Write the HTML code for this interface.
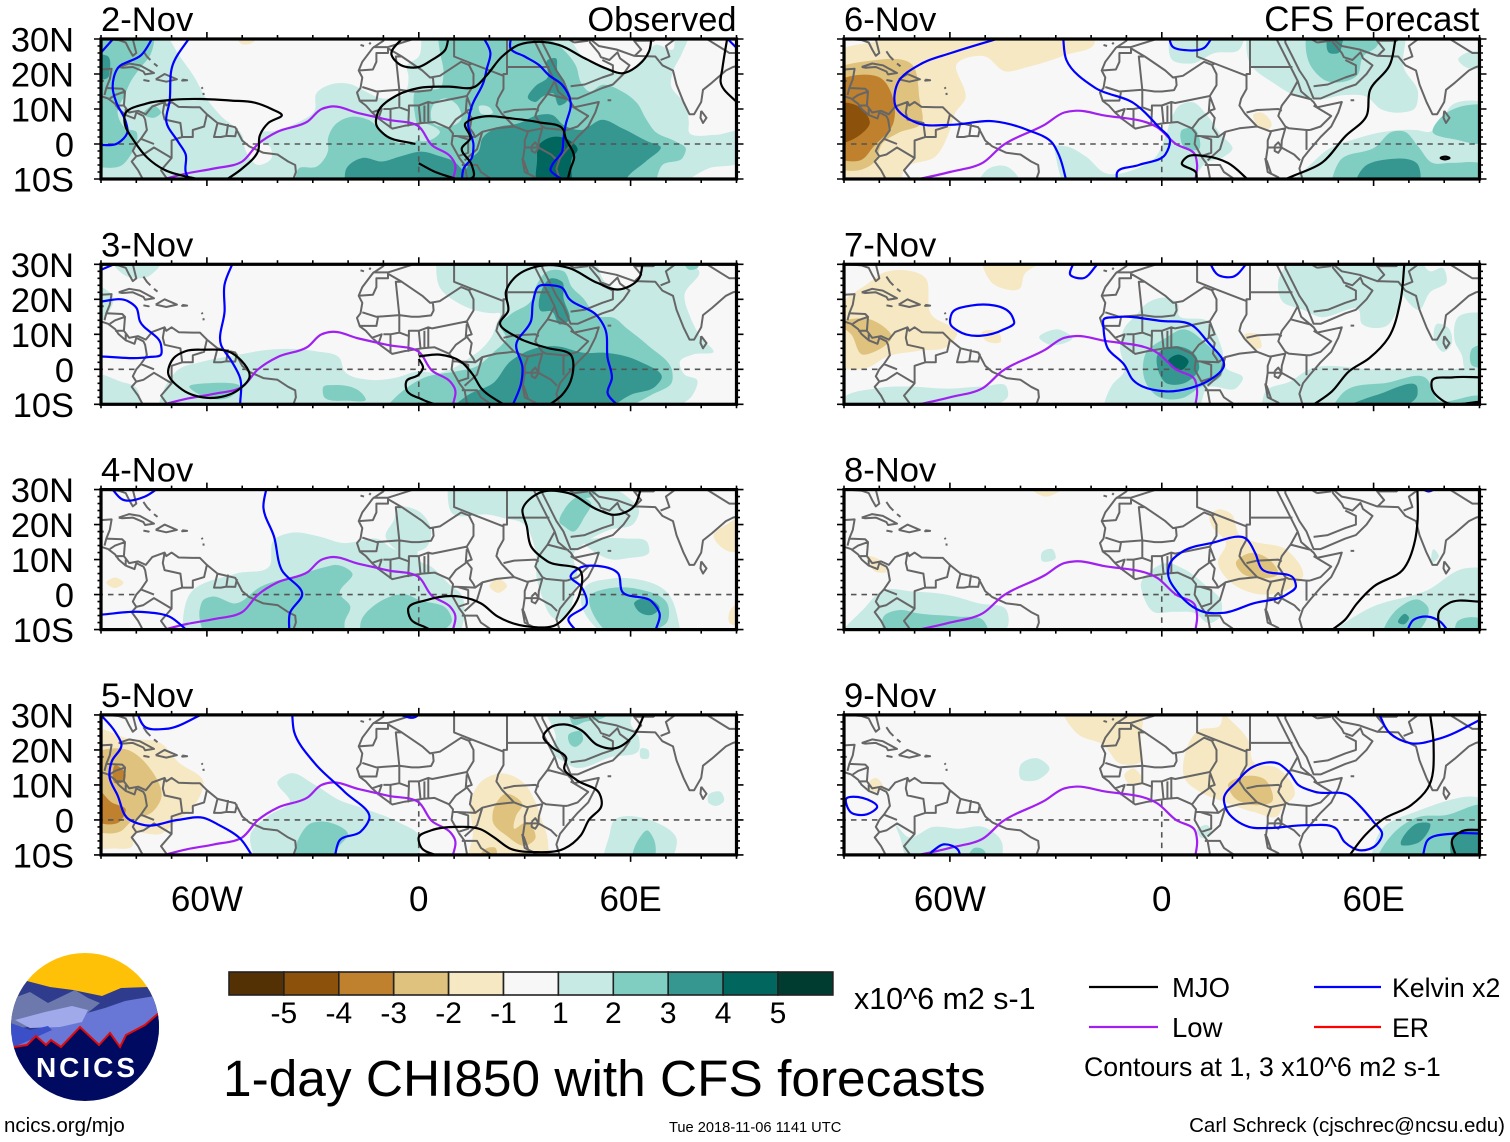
<!DOCTYPE html>
<html lang="en">
<head>
<meta charset="utf-8">
<title>1-day CHI850 with CFS forecasts</title>
<style>
html,body{margin:0;padding:0;background:#fff}
svg{display:block}
text{font-family:"Liberation Sans",sans-serif;fill:#000}
</style>
</head>
<body>
<svg id="chart" xmlns="http://www.w3.org/2000/svg" width="1510" height="1142" viewBox="0 0 1510 1142">
  <rect width="1510" height="1142" fill="#fff"/>
  <g id="panels"></g>
  <g id="colorbar"></g>
  <text x="854" y="1009" font-size="30.4">x10^6 m2 s-1</text>
  <text x="223" y="1096" font-size="51.4">1-day CHI850 with CFS forecasts</text>
  <g>
    <line x1="1089" x2="1158" y1="987" y2="987" stroke="#000" stroke-width="2.2"/>
    <text x="1172" y="997" font-size="27.5">MJO</text>
    <line x1="1089" x2="1158" y1="1027" y2="1027" stroke="#a020f0" stroke-width="2.2"/>
    <text x="1172" y="1037" font-size="27.5">Low</text>
    <line x1="1314" x2="1381" y1="987" y2="987" stroke="#0000ff" stroke-width="2.2"/>
    <text x="1392" y="997" font-size="26.7">Kelvin x2</text>
    <line x1="1314" x2="1381" y1="1027" y2="1027" stroke="#ff0000" stroke-width="2.2"/>
    <text x="1392" y="1037" font-size="26.7">ER</text>
    <text x="1084" y="1076" font-size="26.7">Contours at 1, 3 x10^6 m2 s-1</text>
  </g>
  <text x="4" y="1132" font-size="20.5">ncics.org/mjo</text>
  <text x="669" y="1132" font-size="14.65">Tue 2018-11-06 1141 UTC</text>
  <text x="1505" y="1132" font-size="20.5" text-anchor="end">Carl Schreck (cjschrec@ncsu.edu)</text>
  <g>
    <defs><clipPath id="logoClip"><circle cx="85" cy="1027" r="74"/></clipPath></defs>
    <g clip-path="url(#logoClip)">
      <rect x="10" y="952" width="150" height="60" fill="#ffc107"/>
      <polygon fill="#2f3c8e" points="8,985 27,981 50,987 73,990 102,996 121,988 148,987 162,1000 162,1035 8,1035"/>
      <polygon fill="#6d79ad" points="8,1000 30,992 48,1003 75,990 88,998 100,1003 85,1015 60,1022 8,1030"/>
      <polygon fill="#6877d6" points="80,1015 105,1008 125,1001 155,996 162,1020 162,1060 8,1060 8,1040 50,1025"/>
      <polygon fill="#a0a9ea" points="15,1020 45,1012 72,1006 88,1010 82,1022 60,1027 30,1028"/>
      <polygon fill="#3b4fc8" points="8,1022 30,1030 48,1026 52,1030 30,1040 14,1047 8,1047"/>
      <polygon fill="#000a60" points="14,1047 27,1045 36,1036 46,1045 51,1040 61,1047 80,1027 99,1045 110,1033 120,1047 126,1035 145,1025 160,1012 165,1105 5,1105 5,1047"/>
      <polyline fill="none" stroke="#e00a0a" stroke-width="2" points="14,1047 27,1045 36,1036 46,1045 51,1040 61,1047 80,1027 99,1045 110,1033 120,1047 126,1035 145,1025 160,1012"/>
    </g>
    <text x="87" y="1077" font-size="28" font-weight="bold" text-anchor="middle" letter-spacing="3" style="fill:#fff">NCICS</text>
  </g>
</svg>
<script>
// ---- axes ----
const panelDays = ['2-Nov','3-Nov','4-Nov','5-Nov','6-Nov','7-Nov','8-Nov','9-Nov'];
const lonTickValues = [-60,0,60];
const lonTickLabels = ['60W','0','60E'];
const latTickValues = [30,20,10,0,-10];
const latTickLabels = ['30N','20N','10N','0','10S'];
const colorLevels = [-5,-4,-3,-2,-1,1,2,3,4,5];
const colorBands = ['#543005','#8c510a','#bf812d','#dfc27d','#f6e8c3','#f7f7f7','#c7eae5','#80cdc1','#35978f','#01665e','#003c30'];

// ---- shared geography (lon,lat pairs) ----
const coastLines = [
[-91,29.5,-89,30,-85,29.7,-83,29,-82,27,-81,25.2,-80,26,-81,30,-81,32],
[-91,21,-90,21.3,-87,21.5,-87.5,18.5,-88.5,16,-84,15.8,-83.2,15,-83.5,11,-82,9,-79.5,9.5,-77.3,8.5,-75.5,10.7,-72,12,-71.5,11,-70,12,-68,10.6,-64,10.5,-62,10.5,-60,8.5,-57,6,-52,4.8,-50,1,-48,-0.7,-44,-2.5,-40,-3,-37,-5,-35,-6,-34.8,-8,-35.5,-10,-36.5,-11],
[-91,14,-88,13,-86,11.5,-85,10,-83,8.3,-80.5,7.3,-80,9,-78,8,-77.5,7,-77,4,-78.7,1.5,-80,0,-81,-2,-80,-3.5,-81.3,-5,-79.5,-7.5,-78.2,-10,-77.5,-11],
[-72,12,-72.5,9,-72,7,-67.5,6,-67,2,-70,1,-70,-4,-73,-7.5,-70.5,-11],
[-67,2,-64,2,-64,4,-60.8,5,-60,8.5],
[-57,6,-58,2,-56,2,-54.5,2.3,-54,5.7],[-54.5,2.3,-52,2.2,-51.5,4.5],
[-80,-3.5,-78,-3,-75,-1,-70,-4],[-78.7,1.5,-75,0],
[-87.5,13,-86,14,-83.2,15],[-86,11,-83.7,11],[-83,8.5,-83,10],[-89,14,-88.5,16],[-89.2,18,-91,18],
[-85,22,-82,23,-79,22.5,-75,20.3,-77.5,19.9,-78,20.7,-81,22,-84,21.8,-85,22],
[-74.5,18.5,-72,20,-68.5,18.5,-71.5,17.8,-74.5,18.5],[-78,18.3,-76.5,18,-78,18.3],[-67,18.4,-65.6,18.2,-67,18.1,-67,18.4],
[-78,26.5,-77,25,-76,24],[-75,23,-74,22.2],[-61.5,16.2,-61.2,15.8],[-61,14.6,-60.9,14],
[-9.5,31,-10,29.5,-13,27.5,-16,23.5,-17,21,-16,19,-16.5,16,-17.5,14.7,-16.7,12.3,-15,11,-13.2,9,-11,7,-7.5,4.4,-4,5.2,1,6,4.5,6.3,8.5,4.5,9.7,3,9.3,0,11.5,-4,13,-6,13.7,-10,14,-11],
[32.5,31,32.5,30,34,27,35.5,24,37,21,38.5,18,39.5,15,43,12,44,10.5,51,12,50,9,48,5,45,2,42,-1.5,40,-4,39,-7,40,-10.5,40.5,-11],
[35,31,35,29,37,25,39,21,41,18,43,13,45,13,52,16,55,17,58,20,59.7,22.5,57,24.5,56.3,26.2,54,24,51.6,24.8,51,26,48.5,29,48,31],
[48.5,30,51,28,56,27,61,25.2,67,25,69,22.5,72,21,73,17,75,12,76.7,8.5,78,8.5,80,12,80.5,15.5,83,17.5,87,21,89,22,91,22.5],
[80,9.5,81.5,7.5,80.5,6,79.8,7.5,80,9.5],[53.5,12.5,54.5,12.5],
[32,-0.5,33,0.5,34,-1,33,-2.5,32,-2,32,-0.5],[29.3,-4,30,-8,31,-8.5,29.8,-5,29.3,-4],[34,-10,34.7,-11],
[-16.5,28.3,-15.5,28],[-14,28.5,-13.6,29],
[-13,27.7,-8.7,27.7,-8.7,26,-12,26,-12,23.5,-13,21.3,-17,21],
[-8.7,27.3,-4.8,25,-6.5,25,-5.5,15.5,-12,15,-16,16.3],
[-4.8,25,1,21,3.2,19,4,19.1,4.2,16.8,3.5,15.4,0,15,-2,15,-5.5,15.5],
[-1.5,32,-1.5,30,-8.7,27.7],
[3.2,19,6,19.5,12,23.5,14.2,22.6,15,23,10,25,10,30,9.5,31],
[14.2,22.6,15.5,20,15.5,16.8,13.6,13.7],
[25,31,25,20,24,20,24,19.5,15,23],[25,22,37,22],
[24,19.5,24,15.7,22.5,13,22,11,23.5,8.7],
[13.6,13.7,3.8,11.7,2.7,12,2.7,6.3],
[13.6,13.7,15,10,13.5,9.5,15,7.5,14.5,4.5,15.5,3,16,2,18,3.5,22,4.5,27,5,30.5,3.7,31,3.7],
[13.6,13,13.3,9,10.5,7,8.7,4.6],[9.8,2.3,16,2],[11,2.2,14,1.3,14,-2.5,11,-3.5],[18,3.5,16.5,-1.5,13,-4.7],
[12.2,-6,16.5,-6,17.6,-8,22,-11],[23.5,8.7,27,5],[24,9,27,9.7,33,10,34,9.5],
[36.5,14.3,34,11,33,8,35,5,36,4.5,41,4,42,4],[36.5,14.3,38.5,18],[36.5,14.3,42.5,12.7],
[43,11,48,8,45,5,42,4],[41,3.9,41,-1.7],[31,3.7,35,4.5,34,1,33.9,-1],[33.9,-1,37.5,-3,39.2,-4.7],
[30,-1,29.5,-4.5,30,-8,33,-9.5,34,-11],[30,-1,30,1,31,3.7],[34.5,-11.5,40.5,-10.5],[33.9,-1,30,-1],
[-16.7,12.4,-12,12.4,-11.5,15],[-13.3,9,-10.5,10,-11.5,7],[-8,4.5,-8,10,-10,10],
[-8,10,-5.5,10.5,-2.8,9.5,-3,5],[-2.8,9.5,-2.8,11,0,11,0.5,6],[0,11,2.7,12],[-5.5,10.5,-5.5,15.5],[1.6,6.2,1.6,11],
[43,16.5,47,17,52,19,55,20,55,22.5,52,24],[44,29,48,29.5],[39,32,44,29],
[61,25,63,27,61,29.5,61,31],[61,29.5,66.5,29.5,70,33],[68.5,24,71,25,70,28,74,31],[80,31,88,26,90,26,92,24,91,22]
];
const equatorOceanSpans = [[-91,-80],[-50,9.5],[42.5,91]];
const primeMeridianSpan = [5.5,-11];
const lowObserved = [-74,-10.5,-65.7,-8.4,-58,-7,-50,-5,-45.5,0,-40,3.5,-31.5,6.4,-27.5,10,-24.8,10.7,-17,8.8,-8.6,6.9,0,5,3.7,-0.3,9,-3.6,10.2,-5.5,9.5,-11];
const lowForecast = [-71,-10.5,-60,-8,-50.6,-5.3,-45.3,-0.6,-33,5.6,-27.6,9,-24.7,9.5,-16.5,8.2,-1.2,4.7,4,0,9.4,-3,10,-6,9.4,-11];

// ---- CHI850 filled regions per day: [band level, lon,lat outline] ----
const chi2Nov = [
[1,[-91,31,-71.5,31,-68,25.5,-63.5,19,-60.5,13.5,-56,8,-50,2.5,-49,-2,-45.5,-6,-41.7,-4,-42,-1,-45,1,-45,3,-41,3.7,-34.5,6,-29.5,9.5,-29,14.5,-25,17,-19,17,-16,15.5,-10,13,-4,14.5,-3,20,-3.5,22,0,25,1,31,42,31,47,24.5,54,21.6,57.6,20.2,64,25,67,28.3,72,27,73,31,76,31,74.6,26,72,20.7,71.4,17,75.6,11,76.5,6.4,76.5,3.5,84,2.6,91,3.5,91,-5,82,-7,75,-11,-91,-11]],
[-1,[-52,31,-50,28.5,-47,29,-45.5,31]],
[2,[-91,31,-75,31,-76,25.5,-79,21.6,-81.5,18,-83.3,14,-85.3,9,-83,4.5,-80,3.5,-80,0,-81.5,-3,-84,-6,-91,-6.5]],
[2,[-78,8.5,-75,11,-73,9,-75,7.5]],
[3,[-91,25.5,-88,25,-87.5,21,-88,19,-91,18.5]],
[2,[-35,-11,-34,-7,-29,-6.5,-25.7,-2,-25.7,1.6,-23.8,5.4,-19,7.8,-14.3,6.9,-8.6,1.6,-4,0,-0.5,1,-1,8,-1.5,12,-1,15,3,15.5,6,16,7,20,6,26.4,5.5,31,35,31,40.6,27.3,44.4,22.6,46.3,16.9,48.2,15,52,16.9,57.6,15,61.9,11.6,64.3,7.3,67,3.5,72.8,0.7,75.6,-1.2,74.7,-4,69,-6,67,-11]],
[1,[4,11,7,13,11,11,12,7,9,5,4,6]],
[1,[-1,6,3,5.5,6,3.5,3,1,0,1]],
[1,[17,10.7,20,10.5,21,9,17.5,8.8]],
[3,[-21,-11,-20.5,-7,-16,-4,-10.5,-5,-5,-3.5,1,-2.2,6,-3.5,10,-5,13,-7.5,15,-4,17,-2,18,1.6,21.7,4.5,28.3,5.9,34,8.3,37.8,8.3,41,5.4,46,4,52,6.9,57.6,4.5,65,0.7,68.5,-0.8,64.3,-5,59.5,-9,58,-11]],
[3,[31,13,33,16.5,36.5,19,36.5,24,38.8,24.5,39.3,21,41,18,41.8,12,39.8,11,38,14.5,35,13.5,33,12]],
[4,[33.5,-11,33.5,-5,34,-0.3,37.8,2,41.6,1.6,45,-1.7,43.4,-4,43,-11]]
];
const chi3Nov = [
[1,[-84,30.5,-80,31,-73,30.5,-76.5,26.6,-83.5,27,-86,30]],
[1,[-91,24,-86.5,20.4,-88,16,-91,12.8]],
[1,[-91,-1.5,-84.7,-3.4,-80,-5.3,-79,-11,-91,-11]],
[1,[-74,-11,-71,-3.5,-68,0,-62,2,-52,4,-42.4,5.6,-29.4,5.2,-22.4,3.2,-21,-0.6,-14,-3,-7,-2.5,0,-0.6,6,-1,11,1,14,3,18,6,21,10,22,13,23,16,21,16,12,18.5,6,23.3,5,31,50,31,53,24.7,57.6,22.8,62,25,64,31,75,31,79.4,28,75.3,21.4,77,14.7,80,9,83.5,5,77.6,4.2,74,2.3,75.3,-1.5,78.8,-3,77.6,-7.3,73,-11]],
[2,[-65,-5,-60,-4,-50.6,-5.3,-53,-7.7,-62,-7.3]],
[2,[-27,-5,-24,-4.5,-16,-7,-15,-8.5,-20,-9,-27,-7.5]],
[2,[75,31,76.5,28.5,79,29,79.5,31]],
[2,[-9.4,-11,-4.7,-6.3,1.2,-2.5,10.6,-0.6,16.5,0.9,21,4.7,24.7,9,23,12.8,26,15.7,31.8,19.5,33.5,24.3,36.5,28,41,28,43.5,23.3,46.5,20.4,50.6,15.2,55.3,14.7,58.8,11.8,64.7,7,71.8,-0.6,71.8,-3.4,65.9,-7.3,58.8,-11]],
[3,[9.4,-11,14,-7.3,21,-4,26,2.3,31.8,5.6,38.8,6.6,47,4.7,53,4.7,62.4,2.3,68.8,-2.5,67,-4.9,60,-7.3,54,-11]],
[3,[34.7,16.6,34.7,22.3,37.6,26,40.6,25,41,20.4,42.4,13.8,40,12.8,37.6,16.6]]
];
const chi4Nov = [
[-1,[-88.5,3.4,-86,4.9,-83.6,3.4,-86,1.9]],
[-1,[20,2.5,22.5,4.5,25,2.5,22.5,0.5]],
[-1,[91,23,90,22,83.5,16.6,88,12.3,91,12.3]],
[-1,[91,-2,88,-5,88,-8,91,-9]],
[1,[-67,-11,-64.7,0.4,-51.8,6,-42.4,8,-41,15.7,-36.5,17.6,-28.2,16.6,-21,14.7,-16.5,15.4,-12,16,-7,13,-0.5,12.5,0,10,3.5,8,9.4,2.3,11.8,0.4,13,-4.4,11.8,-11]],
[1,[-7,21.4,-5.9,24.7,0,23.8,3.5,18.5,2.4,13.8,-7,13.3,-9.4,16.6]],
[1,[8.2,31,9.4,23.3,20,22.8,24,21.9,29.4,20.4,33,12.8,33.5,4.2,34.7,0,39,-7,41,-7,44,0,45,5,44,12,47,14.7,54,18.5,61,20.4,62.4,24,59,28,54,31]],
[1,[47,14.5,58.8,16,64.7,15,65.3,12.3,59,10.4,55,10,50,12]],
[1,[47,2,54,4.5,59,4.7,70.6,0.4,73.5,-7.3,74,-11,51.8,-11,46,-0.6]],
[2,[-61,-11,-62,-4,-61,-1.5,-58.8,-0.6,-51.8,-2.5,-44.7,2.3,-34,5.6,-26,8,-23.5,8.5,-18.8,6,-22.4,0.4,-19.4,-3.4,-21,-8,-21,-11]],
[2,[-16.5,-11,-16.5,-8.2,-11.8,-2.5,-3.5,0,0,-1.5,8.2,-4.4,9.4,-7.3,5.9,-11]],
[2,[40,20.4,41.2,24.3,45.9,28,48.8,26.2,47,22.3,43.5,18,41.2,19.5]],
[2,[42,31,44,28.5,49,28,51,31]],
[2,[48.8,0,54,1.8,61,1.8,70.6,-3,70.6,-7.3,62.4,-11,54,-11]],
[3,[61,-2.5,64.7,-1,68.2,-4,66,-5.8,62.4,-4.9]]
];
const chi5Nov = [
[-1,[-91,26.2,-82.4,23.3,-73,21.9,-68.2,16.6,-61,10.9,-63.5,4.2,-68.8,-0.6,-72.8,-3.9,-81,-4.4,-81,-7.3,-87,-8.2,-91,-8.2]],
[-2,[-91,19.5,-82.4,20,-76.5,15.2,-73,6,-75.4,2.3,-81,-0.1,-84.7,-3.4,-91,-3.4]],
[-3,[-91,9,-87,5,-83,3,-84.7,-0.5,-91,-0.5]],
[-3,[-86,15.7,-83,13,-83.5,11,-86,10.5]],
[-1,[14,-11,15.3,-4.4,14.7,5.2,17.6,10.9,23.5,13.3,29.4,10.9,33,5.2,34.7,0.4,36.5,-5.3,36.5,-11]],
[-2,[21,2.3,24.7,7.5,29.4,4.2,27.6,1.3,27,-2.5,30.6,-0.6,33,-5.3,30.6,-7.3,24.7,-4.4,21,-0.6]],
[-2,[17,-11,19,-8.2,21.7,-8,22,-11]],
[1,[-46.5,-11,-47.6,-4,-42.4,1.3,-36.5,5.2,-40,10.9,-36.5,13.3,-29.4,10,-22.4,5.6,-15.3,3.2,-5.9,-0.6,0,-4.4,0,-11]],
[1,[36,31,38.8,23.3,37.6,19.5,41.2,16.6,43.5,15.2,54.7,18,62.4,20,62.4,23.3,60,28,61,31]],
[1,[63,20.5,65,20,65,17.6,63,17.6]],
[1,[82,7,85.5,8,86.5,5.5,84,4,82,5]],
[1,[55,-0.6,67,-0.6,73,-5.3,71.8,-11,52.4,-11,54,-4.4]],
[2,[42.5,31,44,27,47,28,52,29,55,31]],
[2,[42.4,24.3,45.9,25.2,46.5,22.8,44,20.9,43,21.5]],
[2,[62.4,-5.3,64.7,-3,66.5,-5.3,66.5,-11,60.8,-11]],
[2,[-35.3,-11,-34,-5.3,-30.6,-1,-25.9,-0.6,-20,-4.4,-22.4,-7.3,-24.7,-11]]
];
const chi6Nov = [
[-1,[-91,27,-80,29.5,-75,31,-19,31,-19,29,-27,25.5,-38,22,-44.5,20.8,-50,25,-58,23,-55.7,12.7,-58.5,8.9,-60,4,-64,-3.5,-73,-7.3,-74,-11,-91,-11]],
[-2,[-91,22,-84,23.6,-70.7,22.7,-68.6,12.7,-68,6,-74.8,3.1,-79,0.3,-81.6,-5.4,-85,-7.3,-91,-7.3]],
[-3,[-91,18.4,-79,18.4,-76,12.7,-76,6,-81.6,-0.7,-85,-4.5,-91,-4.5]],
[-4,[-91,11.7,-86,10.8,-82.7,6,-86,2.2,-91,0.3]],
[-1,[26,8.5,28,9,31,5,30,4,27,5.5]],
[1,[-52,-11,-49,-7,-44,-6.4,-41,-9,-40,-11]],
[1,[-30.4,-0.7,-27,-0.7,-21.6,-3.5,-16,-8.3,-7,-7,-2,-4,1,2,3,8,5,11,8.5,12,13,8,16.5,3,20,-1.5,17,-4,12.5,-5.4,9,-10,8,-11,-28,-11,-30,-3.5]],
[1,[2.3,31,3,24,8.5,23,15,26,22,27,23.5,31]],
[1,[24,31,25,23,31.7,17.4,38.5,13.6,44,12.7,52,14,58,13.5,62,10,68,9,71.5,10,72.6,14.6,68.5,22,69,31]],
[1,[37,-11,42,-6,47,-1.6,55,1.5,63,3.5,72,4,76,3.5,79,6,82,11,91,12,91,-11]],
[1,[84,24,88,26.5,91,26,91,22,86,22]],
[2,[41,31,42,22.7,46.7,18,55.5,19.8,57,25,61,28,62,31]],
[3,[47.3,31,47.5,26,50,26,51.5,30,52,31]],
[2,[5.7,4,9,4.5,10.5,-1.6,6.4,-1]],
[2,[76.7,3.6,79.4,7.9,86,11,91,11,91,0.3,83.5,1.2]],
[2,[48,-11,50.7,-4.5,60.3,-1,65.7,3.6,68.5,3.6,72.6,-0.7,76.7,-5.4,82,-5.4,91,-6.4,91,-11]],
[3,[54.8,-11,57.5,-6.4,63,-4.5,72.6,-6,73.3,-11]],
[4,[79,-4,80.3,-3.6,81.5,-4,80.3,-4.4]]
];
const chi7Nov = [
[-1,[-91,18.5,-83.5,24.3,-78.8,27.6,-67,26.2,-65.3,15.7,-58,10,-60,7,-69.4,5.2,-77.6,3.7,-83.5,0.4,-91,0.4]],
[-2,[-91,12.8,-82.4,14.2,-76.5,9,-81,5.2,-84.7,4.2,-88,10]],
[-1,[-51,31,-47.6,24.3,-40,23.3,-39,27,-33,31]],
[-1,[-51,10.4,-46,10.4,-45.5,8,-50,8.3]],
[-1,[23.5,10,27,10,28,6,26,6]],
[1,[-91,-10,-80,-5.3,-73,-4.9,-60,-5.5,-50.6,-4.9,-44,-4.9,-43.5,-7.3,-48.2,-11,-91,-11]],
[1,[-34.7,9,-29.4,11.4,-25.3,9,-31.8,7]],
[1,[-16.5,-11,-14,-4.4,-10.6,-0.6,-11.8,6,-10.6,11.8,-7,15.7,-4.7,18.5,1.2,20.4,4.7,18.5,4.7,15.7,12.9,13.8,17,6,18.2,0.4,23,-2.5,21.2,-5.3,12.9,-5.3,10.6,-11]],
[1,[36.5,31,33,25.2,34.1,19.5,40,17,44.5,15,56,16.6,56.5,13.3,63.5,12.3,67,17.6,68.8,31]],
[1,[68.8,31,68,22,73,17,76,22,80.7,25,79.5,29,76,28,73,31]],
[1,[77,9.5,78,13,81,12,82,7,80,5]],
[1,[84,15,91,16,91,-1,86,0,85,4,83,8]],
[1,[28.2,-11,29.4,-6.3,36.5,-3.4,41.2,-0.3,60,0,80,-0.2,91,-0.2,91,-11]],
[2,[-5.3,1.3,-4.7,4.2,1.2,9,5.9,11.4,12.9,7,17.6,1.3,17,-1.5,10.6,-5.3,5.9,-8.2,-1.2,-7.7,-4.7,-3.4]],
[3,[-1.2,4.2,3.5,6.6,9.4,4.2,10.6,0.4,6.5,-3.9,1.2,-3.9,-1.2,0.4]],
[4,[1.8,2.3,4.7,4.2,7.6,2.3,5.9,-0.1,2.9,0.4]],
[2,[48.2,-11,51.8,-6.3,63.5,-3.9,75.3,-3,76.5,-5.3,77.6,-8.2,91,-8.7,91,-11]],
[3,[51.8,-11,61,-7.3,72.4,-5.3,72.4,-7.3,68.2,-11]],
[2,[91,7,88,6,88,1,91,0.5]]
];
const chi8Nov = [
[-1,[-38,31,-33,28,-27,31]],
[-1,[13.5,22.4,15.9,24.3,19.4,23.3,22.4,16.6,25.9,15.2,35.3,12.8,40,5.2,34.7,0.9,25.9,0.4,18.8,4.2,15.9,9,18.2,14.7,14,20]],
[-2,[21,9,24.7,11.8,30.6,9.9,33,6,27,4.7,22.9,6]],
[-1,[-83.5,11,-80,10,-78,6.5,-81,6.5]],
[1,[-34,12,-31,13,-30,10.5,-34,9.7]],
[1,[-91,-11,-84.7,-4.4,-78.8,1.3,-70.6,0.9,-61,0,-51.8,-2.5,-44,-4.4,-43.5,-8.7,-44.7,-11]],
[2,[-78.8,-11,-78.8,-6.3,-74,-4.4,-69.4,-5.3,-57.6,-6.3,-50.6,-7.3,-48.8,-11]],
[1,[-5.9,3.2,-2.9,7,1.2,9,5.9,7.5,11.8,3.2,17,-2.5,16.5,-6.3,13.5,-8.2,9.4,-5.3,3.5,-4.9,-2.4,-4.9,-5.3,-0.1]],
[1,[77,13,78.5,11,76.5,9]],
[1,[48.2,-11,58.8,-3.9,75.3,1.3,85.9,7.5,91,7.5,91,-11]],
[2,[62.9,-11,67,-3.9,73,-1.5,75.3,-3.4,72,-11]],
[2,[83,-11,83.5,-8,91,-7.5,91,-11]],
[3,[67,-8,69,-5.5,70,-6.5,68.5,-8.5]]
];
const chi9Nov = [
[-1,[-28.2,31,-23.5,24.3,-16.5,21.4,-11.8,16.1,-5.9,16.6,-5.9,23.3,-5.3,31]],
[-1,[-10.6,12.8,-8.2,14.7,-5.3,10.9,-9.4,10.4]],
[-1,[6.5,18.5,10.6,25.7,16.5,27,17.6,30,20,28,24.7,22.3,25.9,16.6,33,14.7,37.6,7,34,3.2,33,1.3,25.9,2.3,17.6,5.2,11.8,7.5,6.5,11.8]],
[-2,[18.8,10,22.4,12.3,29.4,11.4,31.2,5.2,27,4.2,20,7]],
[-1,[-83.5,10,-81,12,-79,9.5,-81,8]],
[1,[-40,15.7,-35.3,17.6,-31.8,14.7,-35.3,11.4,-40,11.8]],
[1,[-75.3,-1.5,-71.8,-4.9,-64.7,-2,-57.6,-2.5,-50.6,-2,-45.3,-6.3,-45.3,-11,-72.4,-11,-74,-5.3]],
[2,[-55,-11,-53,-8,-50.5,-8.5,-49.5,-11]],
[1,[10,-3,13,-1.5,14,-3,13,-5,11,-5]],
[1,[59.4,-11,62.4,-2.5,71.8,2.3,91,5.6,91,-11]],
[2,[61,-11,67,-2.5,73,0.9,80,1.3,91,4.2,91,-11]],
[3,[68.2,-7.3,72.4,-1,75.9,-1,73,-6.3,69.5,-7.3]],
[3,[82.4,-11,82.4,-4.4,91,-3.9,91,-11]]
];

// ---- MJO (black) contours per day, lon,lat ----
const mjo2Nov = [
[-55,-10.5,-50,-7,-45.5,-2,-45,2.5,-42.6,6,-38.8,8.3,-41.7,10,-46.4,11.8,-53,12.4,-70,12.6,-77,11.6,-83.3,8.3,-83.3,6,-80.5,0.7,-76.8,-4,-72,-7.4,-64.5,-9.6,-60,-10.5],
[66,31,65.2,26.4,62.3,22.6,57.6,20.2,53,21.6,47,24.5,39.7,28.3,34,29.2,28.3,28.3,23.6,25,19.3,19.7,16,16.4,8.5,16.4,0,16,-6,14,-11.5,9.2,-12,5.4,-9.6,2.6,-1,0],
[-4,31,-7.7,25.4,-5.8,23,0,22,3.7,24,7.5,26.9,8.5,31],
[0,-5.5,4.7,-8,9.4,-9.6,12,-10.5],
[42,-11,43,-7,44,-4,41.5,2,41,4,34,6.2,26.4,7.3,18,7.8,14.6,6.9,13.2,5.9,14.6,1.6,12.2,-1.2,15,-6,15.5,-9.3,13,-10.5],
[87.5,31,86,21.6,85.5,17.8,91,11]
];
const mjo3Nov = [
[63.5,31,62.4,26,56.5,22.8,50.6,24.7,42.4,29,34.1,29.5,27,26,24.7,22.3,25.3,16.6,23,13.3,28.2,9,36.5,6.1,43,4.2,43,-3.4,40.6,-7.3,36.5,-10.5],
[0,3.7,5.9,4.2,11.8,2.3,15.3,-1.5,17.6,-5.3,24.7,-10.5],
[0,3,1.2,0.4,0,-1.5,-3.5,-3.4,-3.5,-5.8,1.2,-8.7,6,-10.5],
[-61,5.6,-53,4.7,-48,-2.5,-51,-5.8,-59,-8.2,-67,-5.8,-71,-1,-69.4,3.2,-66,5.2,-61,5.6]
];
const mjo4Nov = [
[63,30.5,61,25.2,55.3,22.8,50.6,24.3,42.4,29,34,29,29.4,24.3,30.6,19.5,31.8,13.8,36.5,9.5,45.9,6.6,45.3,-0.6,42.4,-5.3,38.8,-8.7,31.8,-9.2,22.4,-6.3,17.6,-2.5,11.8,-0.6,2.4,-1.5,-3,-4,-2.4,-6.8,2.4,-9.6,4,-10.5]
];
const mjo5Nov = [
[64,30.5,61,24.3,55.3,20.4,50.6,21.4,45.9,25.7,41.2,27.3,37,26.2,35.3,23.8,37.6,20.9,41.8,17.6,41.2,14.7,44.7,11.4,51.2,7.5,51.8,4.2,48.2,0,45.9,-4.4,41.2,-8.2,33,-9.2,25.9,-8.2,21.2,-4.9,17.6,-2.7,10.6,-2,3.5,-3,0,-4.9,0.6,-7.7,5.9,-10.5]
];
const mjo6Nov = [
[66.4,31,64.4,22.2,59,15.5,58,8,52,2.2,45.3,-5.4,37,-9.2,34,-10.5],
[9.8,-11,9.8,-8.3,5.7,-5.4,7,-3.8,12.5,-3.5,18.7,-5.4,24.8,-10.5],
[79,-4,80.3,-3.6,81.5,-4,80.3,-4.4,79,-4]
];
const mjo7Nov = [
[68.8,31,67.6,19.5,64.2,9,58.8,3.2,53,-0.6,48.2,-6.3,42.4,-10.5],
[91,-2.3,82.4,-2.3,76.5,-3.4,76.5,-5.3,80,-9.2,91,-9.2]
];
const mjo8Nov = [
[72.4,31,72.4,20.4,71.8,15.7,68.2,7,60,2.3,55.3,-2.5,51.8,-7.3,47.6,-10.5],
[91,-2,81.2,-2.5,78.8,-4.4,78.8,-11]
];
const mjo9Nov = [
[75.9,31,77,21.4,75.3,9,70.6,4.2,62.4,0,57.6,-4.4,52.9,-10.5],
[91,-2.8,84.7,-3.4,82.4,-5.3,83.5,-11]
];

// ---- Kelvin x2 (blue) contours per day, lon,lat ----
const kelvin2Nov = [
[-91,25,-85.7,31],
[-75,31,-78.6,25.4,-85.3,21.6,-86.7,16,-85.7,12,-83,6.4,-82.5,3.5,-85.3,0.2,-91,-0.3],
[-64.5,31,-69.7,22.6,-70.6,12,-71.5,6.4,-68.2,0.7,-66,-3,-66,-8,-65,-10.5],
[18,31,20.3,26,19.3,21.6,18.4,17.8,15,10.7,14,5.4,15.5,-0.3,15,-4,12.7,-7,12.2,-10.5],
[26.2,31,26,27.3,30,25,34,22.6,36.8,19.7,40.6,16.9,43,12,41.6,5.4,41,1.6,40.6,-2.2,37.8,-6,37.3,-7.4,38.8,-8.9,41.6,-10.5],
[86.5,31,91,26.5]
];
const kelvin3Nov = [
[-91,28,-84,31],
[-91,19.3,-82.4,19.5,-80,17.6,-79,13.8,-73,7,-73,4.2,-76.5,3.5,-91,3.7],
[-52.4,31,-55,24.3,-55,16.6,-56,7,-53,2.3,-50.6,-2.5,-50.6,-10.5],
[26.5,-10.5,29,-4,29.4,0.4,27.6,7,31.8,13.8,32.4,19.5,34.1,23.8,37.6,24,40.6,23.3,42.4,20.4,50.6,15.2,52.7,11.8,53.5,3.2,54.7,-2.5,53.5,-6.8,56.5,-10.5]
];
const kelvin4Nov = [
[-87.6,31,-83.5,27,-77.6,28,-73,31],
[-43,31,-44,25,-41,16.6,-38.8,7,-33,0,-36.5,-5.3,-36.7,-10.5],
[-91,-5.8,-77.6,-5,-70.6,-6.3,-65.3,-10.5],
[44.7,-10.5,42.4,-7.3,47.6,-2.5,46,2.3,43,5.2,45.3,7.5,50.6,8.2,56.5,6,57.6,0.9,66,-2,68.2,-5.3,67,-10.5]
];
const kelvin5Nov = [
[-91,31,-86,25.2,-84.2,21.4,-87,16.6,-87.6,12.3,-85.3,7,-82.4,0.4,-77.6,-1.5,-68.2,0,-61,0.6,-56.5,-1.5,-50.6,-5.3,-47,-10.5],
[-80,31,-77.6,26.6,-71.8,26,-60.6,30.5],
[-35.9,31,-35.3,25.2,-29.4,16.1,-21,8,-14,0.4,-16.5,-3.4,-22.4,-5.8,-23.8,-10.5],
[-5.3,30,-1.2,29.3,0,30]
];
const kelvin6Nov = [
[-43.4,31,-59.7,26,-68,23,-74.8,17.4,-75.4,10.8,-69.3,6,-59.7,5.5,-47.5,6.5,-38,4,-31,0.3,-29,-3.5,-27,-10.5],
[-28,31,-27,24,-18.8,16,-8,11.7,-1,5,2.3,1.2,1,-3,-6.5,-6,-12.7,-8.3,-12.7,-10.5],
[1.9,31,3,27.9,7,26.8,11.9,27.4,14.6,31]
];
const kelvin7Nov = [
[-24.7,31,-25.9,27,-22.4,26,-18.2,30],
[13.3,31,15.9,27,20,26.4,24.7,31],
[-59.4,16.1,-54,18.2,-42.4,15.2,-41.8,13.3,-44.7,11.4,-57.6,10.9,-59.8,12.8,-59.4,16.1],
[-16.5,14.2,-12.9,14.9,0,13.8,8.2,12.8,12.9,8,17.6,0.9,13,-3.4,8.2,-5.3,1.2,-6.3,-8.2,-3,-10.6,1.3,-15.3,6,-16.5,11.9,-16.5,14.2]
];
const kelvin8Nov = [
[2.4,9,5.9,12.3,14,14.7,24,15.9,26.5,11.8,28.2,7.5,37.6,4.2,38,2.3,35.3,0,25.9,-2.5,17.6,-5.2,11.8,-4.9,4.7,0.4,1.8,6,2.4,9],
[72.5,31,75.5,29.5,78.8,31],
[69.4,-10.5,71.2,-7.3,75.3,-6.3,78.8,-7.7,81.2,-10.5]
];
const kelvin9Nov = [
[61.2,31,64.7,24.7,70.6,21.9,78.8,23.3,91,29],
[35.9,13.8,33,16.1,25.9,15.2,21.2,10.9,17.6,6.1,18.2,3.2,24.7,-2,30.6,-2.3,41.2,-1.5,49.4,-2.5,51.8,-6.3,56.5,-8.7,60.6,-7.3,62.4,-3.9,60,-0.6,55.9,4.2,52.9,7,43.5,8,38.8,9.9,35.9,13.8],
[-89.4,6,-84.7,6.3,-80.6,3.7,-83.5,1.6,-88.2,2.3,-89.4,6],
[-65.3,-9.2,-61.8,-7,-57.6,-8.7,-57,-10.5],
[-66,-10.5,-65.3,-9.2],
[73.9,-10.5,75.3,-5.8,82.4,-3.9,91,-3.9]
];

const chiByDay = [chi2Nov,chi3Nov,chi4Nov,chi5Nov,chi6Nov,chi7Nov,chi8Nov,chi9Nov];
const mjoByDay = [mjo2Nov,mjo3Nov,mjo4Nov,mjo5Nov,mjo6Nov,mjo7Nov,mjo8Nov,mjo9Nov];
const kelvinByDay = [kelvin2Nov,kelvin3Nov,kelvin4Nov,kelvin5Nov,kelvin6Nov,kelvin7Nov,kelvin8Nov,kelvin9Nov];
const lowByDay = [lowObserved,lowObserved,lowObserved,lowObserved,lowForecast,lowForecast,lowForecast,lowForecast];

const SVGNS = 'http://www.w3.org/2000/svg';
function add(parent, tag, attrs) {
  const el = document.createElementNS(SVGNS, tag);
  for (const k in attrs) el.setAttribute(k, attrs[k]);
  parent.appendChild(el);
  return el;
}
const panelW = 635.5, panelH = 140;
function colLeft(col) { return col === 0 ? 101 : 844; }
function rowTop(row) { return 39 + 225.3 * row; }
function lonToX(lon, col) { return colLeft(col) + (lon + 90) * panelW / 180; }
function latToY(lat, row) { return rowTop(row) + (30 - lat) * panelH / 40; }
function pairs(flat, col, row) {
  const out = [];
  for (let i = 0; i + 1 < flat.length; i += 2) out.push([lonToX(flat[i], col), latToY(flat[i + 1], row)]);
  return out;
}
// Tangent direction weighted so a long neighbouring edge does not bulge a short one.
function tangentDir(a, b, c) {
  const d1 = Math.hypot(b[0] - a[0], b[1] - a[1]);
  const d2 = Math.hypot(c[0] - b[0], c[1] - b[1]);
  if (d1 === 0 && d2 === 0) return [0, 0];
  if (d1 === 0) return [(c[0] - b[0]) / d2, (c[1] - b[1]) / d2];
  if (d2 === 0) return [(b[0] - a[0]) / d1, (b[1] - a[1]) / d1];
  return [
    ((b[0] - a[0]) / d1 * d2 + (c[0] - b[0]) / d2 * d1) / (d1 + d2),
    ((b[1] - a[1]) / d1 * d2 + (c[1] - b[1]) / d2 * d1) / (d1 + d2)
  ];
}
function smoothPath(flat, col, row, closed) {
  let p = pairs(flat, col, row);
  const n0 = p.length;
  if (closed && n0 > 2 && p[0][0] === p[n0 - 1][0] && p[0][1] === p[n0 - 1][1]) p = p.slice(0, n0 - 1);
  const n = p.length;
  const at = i => closed ? p[(i + n) % n] : p[Math.max(0, Math.min(n - 1, i))];
  let d = 'M' + p[0][0].toFixed(1) + ' ' + p[0][1].toFixed(1);
  const segs = closed ? n : n - 1;
  for (let i = 0; i < segs; i++) {
    const a = at(i - 1), b = at(i), c = at(i + 1), e = at(i + 2);
    const len = Math.hypot(c[0] - b[0], c[1] - b[1]) / 3;
    const t1 = tangentDir(a, b, c), t2 = tangentDir(b, c, e);
    d += 'C' + (b[0] + t1[0] * len).toFixed(1) + ' ' + (b[1] + t1[1] * len).toFixed(1) + ' '
      + (c[0] - t2[0] * len).toFixed(1) + ' ' + (c[1] - t2[1] * len).toFixed(1) + ' '
      + c[0].toFixed(1) + ' ' + c[1].toFixed(1);
  }
  return d + (closed ? 'Z' : '');
}
function isClosedLine(flat) {
  return flat.length > 6 && flat[0] === flat[flat.length - 2] && flat[1] === flat[flat.length - 1];
}

const panelsRoot = document.getElementById('panels');
panelDays.forEach(function (day, idx) {
  const col = idx < 4 ? 0 : 1;
  const row = idx % 4;
  const left = colLeft(col), top = rowTop(row);
  const panel = add(panelsRoot, 'g', {});
  
  
  const defs = add(panel, 'defs', {});
  const clip = add(defs, 'clipPath', { id: 'clip' + idx });
  add(clip, 'rect', { x: left, y: top, width: panelW, height: panelH });

  const bg = add(panel, 'rect', { x: left, y: top, width: panelW, height: panelH, fill: colorBands[5] });
  
  

  const inner = add(panel, 'g', { 'clip-path': 'url(#clip' + idx + ')' });
  
  

  chiByDay[idx].forEach(function (region) {
    const level = region[0];
    const fill = add(inner, 'path', { d: smoothPath(region[1], col, row, true), fill: colorBands[level + 5] });
    
    
  });

  equatorOceanSpans.forEach(function (span) {
    const eq = add(inner, 'line', { x1: lonToX(span[0], col), x2: lonToX(span[1], col), y1: latToY(0, row), y2: latToY(0, row), stroke: '#555', 'stroke-width': 1.6, 'stroke-dasharray': '5.5 5' });
    
    
  });
  const pm = add(inner, 'line', { x1: lonToX(0, col), x2: lonToX(0, col), y1: latToY(primeMeridianSpan[0], row), y2: latToY(primeMeridianSpan[1], row), stroke: '#555', 'stroke-width': 1.6, 'stroke-dasharray': '5.5 5' });
  
  

  let coastD = '';
  coastLines.forEach(function (flat) {
    const pts = pairs(flat, col, row);
    coastD += 'M' + pts.map(function (q) { return q[0].toFixed(1) + ' ' + q[1].toFixed(1); }).join('L');
  });
  const coast = add(inner, 'path', { d: coastD, fill: 'none', stroke: '#666', 'stroke-width': 2, 'stroke-linejoin': 'round' });
  
  

  const low = add(inner, 'path', { d: smoothPath(lowByDay[idx], col, row, false), fill: 'none', stroke: '#a020f0', 'stroke-width': 2.2 });
  
  

  kelvinByDay[idx].forEach(function (flat) {
    const k = add(inner, 'path', { d: smoothPath(flat, col, row, isClosedLine(flat)), fill: 'none', stroke: '#0000ff', 'stroke-width': 2.2 });
    
    
  });
  mjoByDay[idx].forEach(function (flat) {
    const m = add(inner, 'path', { d: smoothPath(flat, col, row, isClosedLine(flat)), fill: 'none', stroke: '#000', 'stroke-width': 2.2 });
    
    
  });

  // axis ticks
  let tickD = '';
  for (let lon = -90; lon <= 90; lon += 10) {
    const len = lonTickValues.indexOf(lon) >= 0 ? 7 : 4;
    const x = lonToX(lon, col).toFixed(1);
    tickD += 'M' + x + ' ' + top + 'V' + (top - len) + 'M' + x + ' ' + (top + panelH) + 'V' + (top + panelH + len);
  }
  for (let lat = -10; lat <= 30; lat += 2) {
    const len = lat % 10 === 0 ? 7 : 3.5;
    const y = latToY(lat, row).toFixed(1);
    tickD += 'M' + left + ' ' + y + 'H' + (left - len) + 'M' + (left + panelW) + ' ' + y + 'H' + (left + panelW + len);
  }
  const ticks = add(panel, 'path', { d: tickD, fill: 'none', stroke: '#000', 'stroke-width': 1.6 });
  
  

  const frame = add(panel, 'rect', { x: left, y: top, width: panelW, height: panelH, fill: 'none', stroke: '#000', 'stroke-width': 3.2 });
  
  

  const title = add(panel, 'text', { x: left, y: top - 8, 'font-size': 34.6 });
  title.textContent = day;
  
  

  if (col === 0) {
    latTickValues.forEach(function (lat, i) {
      const t = add(panel, 'text', { x: 74, y: latToY(lat, row) + 12.5, 'font-size': 34.4, 'text-anchor': 'end' });
      t.textContent = latTickLabels[i];
      
      
    });
  }
  if (row === 3) {
    lonTickValues.forEach(function (lon, i) {
      const t = add(panel, 'text', { x: lonToX(lon, col), y: 911, 'font-size': 35, 'text-anchor': 'middle' });
      t.textContent = lonTickLabels[i];
      
      
    });
  }
  if (idx === 0 || idx === 4) {
    const tag = add(panel, 'text', { x: left + panelW, y: top - 8, 'font-size': idx === 0 ? 34.4 : 34.9, 'text-anchor': 'end' });
    tag.textContent = idx === 0 ? 'Observed' : 'CFS Forecast';
    
    
  }
});

// colour bar
const cbRoot = document.getElementById('colorbar');
const cbLeft = 229, cbTop = 972, cbBox = 54.9, cbHeight = 23;
colorBands.forEach(function (color, i) {
  const box = add(cbRoot, 'rect', { x: cbLeft + i * cbBox, y: cbTop, width: cbBox, height: cbHeight, fill: color, stroke: '#222', 'stroke-width': 1.6 });
  
  
});
colorLevels.forEach(function (level, i) {
  const label = add(cbRoot, 'text', { x: cbLeft + (i + 1) * cbBox + (level === 1 ? 2 : 0), y: 1023, 'font-size': 30, 'text-anchor': 'middle' });
  label.textContent = String(level);
  
  
});
</script>
</body>
</html>
